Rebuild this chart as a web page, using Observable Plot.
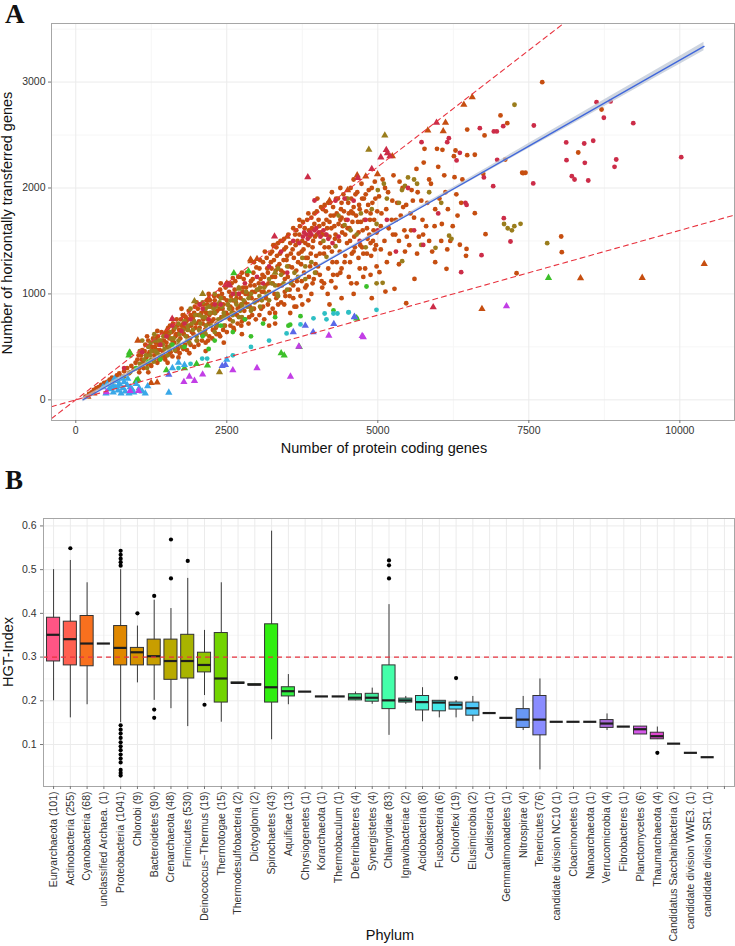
<!DOCTYPE html>
<html><head><meta charset="utf-8">
<script src="https://cdn.jsdelivr.net/npm/d3@7"></script>
<script src="https://cdn.jsdelivr.net/npm/@observablehq/plot@0.6"></script>
<style>
body{margin:0;background:#fff;}
#wrap{position:relative;width:735px;height:946px;overflow:hidden;font-family:"Liberation Sans",Arial,sans-serif;}
#wrap > div{position:absolute;left:0;}
#panelA{top:0;} #panelB{top:460px;}
</style></head>
<body><div id="wrap"><div id="panelA"></div><div id="panelB"></div></div>
<script>
// ---------------- Panel A data ----------------
const xTicksA = [0, 2500, 5000, 7500, 10000];
const yTicksA = [0, 1000, 2000, 3000];
const guideSlopes = [0.44, 0.16];
const fitSlope = 0.3245, fitIntercept = -38;
const ciX = [120, 2500, 5000, 7500, 10400];
const ciHalf = [22, 10, 12, 24, 40];

const orangeDots = [[160,30],[220,55],[260,70],[300,95],[340,110],[380,120],[420,140],[470,160],[520,170],[560,190],[600,210],[640,180],[680,230],[720,250],[760,220],[800,270],[850,300],[880,250],[920,320],[960,290],[990,350],
[1020,380],[1050,300],[1080,420],[1100,470],[1120,350],[1150,520],[1170,400],[1200,560],[1220,450],[1240,330],[1260,500],[1280,580],[1300,420],[1320,540],[1340,470],[1360,600],[1380,380],[1400,520],[1420,640],[1440,460],[1460,560],[1480,410],[1490,620],
[1510,500],[1530,680],[1550,580],[1570,450],[1590,640],[1610,720],[1630,540],[1650,600],[1670,760],[1690,480],[1710,660],[1730,580],[1750,700],[1770,800],[1790,620],[1810,520],[1830,740],[1850,660],[1870,840],[1890,580],[1910,700],[1930,780],[1950,620],[1970,880],[1990,720],
[2010,560],[2030,800],[2050,680],[2070,900],[2090,620],[2110,760],[2130,840],[2150,700],[2170,940],[2190,560],[2210,800],[2230,880],[2250,740],[2270,660],[2290,980],[2310,820],[2330,720],[2350,900],[2370,620],[2390,1040],[2410,780],[2430,860],[2450,960],[2470,700],[2490,820],
[2510,900],[2530,1100],[2550,760],[2570,980],[2590,860],[2610,680],[2630,1040],[2650,920],[2670,800],[2690,1160],[2710,880],[2730,960],[2750,740],[2770,1060],[2790,840],[2810,1000],[2830,1200],[2850,900],[2870,780],[2890,1080],[2910,960],[2930,1140],[2950,860],[2970,1020],[2990,1250],
[3010,940],[3030,1100],[3050,1320],[3070,860],[3090,1180],[3110,1020],[3130,1400],[3150,960],[3170,1240],[3190,1100],[3210,820],[3230,1300],[3250,1160],[3270,1460],[3290,1000],[3310,1220],[3330,1360],[3350,900],[3370,1280],[3390,1500],[3410,1080],[3430,1200],[3450,1420],[3470,980],[3490,1320],
[3510,1160],[3520,1560],[3540,1040],[3560,1380],[3580,1250],[3600,1620],[3620,880],[3640,1460],[3660,1120],[3680,1300],[3700,1560],[3720,980],[3740,1400],[3760,1680],[3780,1200],[3800,1480],[3820,1080],[3840,1340],[3860,1600],[3880,1260],[3900,1720],[3920,1440],[3940,1140],[3960,1540],[3980,1360],[3990,1780],
[4010,1260],[4030,1640],[4050,1480],[4070,1120],[4090,1800],[4110,1380],[4130,1560],[4150,1700],[4170,1000],[4190,1440],[4210,1860],[4230,1620],[4250,1300],[4270,1740],[4290,1520],[4310,1900],[4330,1180],[4350,1660],[4370,1400],[4390,1800],[4410,1580],[4430,1940],[4450,1300],[4470,1700],[4490,1480],
[4510,1860],[4530,1620],[4550,2000],[4570,1380],[4590,1760],[4610,1540],[4630,1940],[4650,1100],[4670,1680],[4690,1840],[4710,1460],[4730,2040],[4750,1600],[4770,1900],[4790,1240],[4810,1780],[4830,1520],[4850,1980],[4870,1700],[4890,1360],[4910,1860],[4930,1600],[4950,2060],[4970,1460],[4990,1780],
[5020,1920],[5050,1640],[5080,2080],[5110,1500],[5140,1800],[5170,1960],[5200,1380],[5230,1700],[5260,2120],[5290,1560],[5320,1860],[5350,1280],[5380,1740],[5410,2000],[5440,1600],[5470,1840],
[5520,1460],[5560,1980],[5600,1720],[5640,2180],[5680,1540],[5720,1880],[5760,2240],[5800,1640],[5850,2080],[5900,1400],[5950,1800],[6000,2200],[6060,1660],[6120,1960],[6200,1500],[6260,2300],[6320,1740],[6400,2080],[6460,1360],
[7722,2999],[8704,2741],[8318,2335],[7390,2144],[7445,2144],[8036,1542],[8046,1394],[7031,2685],[7143,2612],[6767,2496],[6480,2552],[5980,2370],[6070,2360],[6286,2354],[6480,2310],[6606,2314],[5773,2370],[7110,2268],[6745,2134],[7407,2140],[6606,1762],[6783,1564],[7297,1195],[6137,1237],[6358,1464],[6469,1425],[5607,1142],[5470,912],[5276,1048],[5126,1022],[5027,1205],[6270,2102],
[3700,1700],[3850,1760],[4000,1900],[4120,1840],[4240,1960],[4380,2000],[4600,2080],[4400,1720],[4560,1780],[4200,1680],[4060,1580],[3950,1660],[3650,1600],[3450,1520],[3250,1400],[3350,1480],[2950,1300],[2750,1200],[2600,1150],[2400,1100],[2200,1000],[2000,920],[1750,860],[1600,760],[1350,650],[1180,600],
[1040,420],[1090,380],[1140,460],[1190,430],[1230,510],[1270,460],[1310,500],[1330,580],[1370,520],[1390,470],[1430,560],[1470,620],[1500,540],[1540,620],[1560,700],[1600,560],[1620,660],[1660,620],[1680,700],[1700,620],[1740,760],[1760,660],[1780,720],[1800,680],[1820,780],[1840,600],[1860,760],[1880,700],[1900,800],[1920,640],[1940,760],[1960,820],[1980,680],
[2020,860],[2040,740],[2060,640],[2080,820],[2100,720],[2120,900],[2140,660],[2160,820],[2180,900],[2200,720],[2220,940],[2240,820],[2260,900],[2280,760],[2300,940],[2320,680],[2340,840],[2360,980],[2380,860],[2400,760],[2420,1000],[2440,900],[2460,820],[2480,1060],[2500,940],[2520,800],[2540,1020],[2560,880],[2580,1100],[2600,940],[2620,820],[2640,1120],[2660,960],[2680,860],[2700,1000],[2720,1160],[2740,900],[2760,1020],[2780,1140],[2800,920],[2820,1060],[2840,1180],[2860,1000],[2880,880],[2900,1120],[2920,1020],[2940,1200],[2960,1080],[2980,940],
[3020,1040],[3040,1240],[3060,1140],[3080,1020],[3100,1300],[3120,1160],[3140,1080],[3160,1340],[3180,1200],[3200,1020],[3220,1380],[3240,1240],[3260,1100],[3280,1320],[3300,1160],[3320,1440],[3340,1260],[3360,1080],[3380,1380],[3400,1220],[3420,1500],[3440,1320],[3460,1140],[3480,1440],[3500,1360],[3530,1260],[3550,1480],[3570,1120],[3590,1420],[3610,1340],[3630,1560],[3650,1220],[3670,1500],[3690,1380],[3710,1640],[3730,1280],[3750,1500],[3770,1420],[3790,1620],[3810,1340],[3830,1700],[3850,1460],[3870,1540],[3890,1380],[3910,1620],[3930,1500],[3950,1760],[3970,1280],[3990,1560],
[4020,1700],[4040,1380],[4060,1820],[4080,1560],[4100,1660],[4120,1440],[4140,1780],[4160,1620],[4180,1860],[4200,1540],[4220,1740],[4240,1400],[4260,1820],[4280,1640],[4300,1560],[4320,1760],[4340,1900],[4360,1500],[4380,1700],[4400,1860],[4420,1640],[4440,1780],[4460,1560],[4480,1900],[4500,1620],[4520,1760],[4540,1500],[4560,1900],[4580,1680],[4600,1820],[4620,1440],[4640,1740],[4660,1960],[4680,1580],[4700,1800],[4720,1680],[4740,1900],[4760,1380],[4780,1700],[4800,1940],[4820,1620],[4840,1840],[4860,1560],[4880,1760],[4900,2000],[4920,1500],[4940,1700],[4960,1900],[4980,1580],
[4080,1060],[4230,1120],[4380,1200],[4520,1160],[4700,1240],[4880,1180],[4400,960],[4200,900],[4600,1000],[4900,960],[3100,880],[3300,820],[3450,900],[3600,960],[3750,900],[3900,1000],[3200,700],[3550,820],
[5060,1760],[5120,2000],[5180,1620],[5240,1880],[5300,1700],[5360,2060],[5420,1820],[5480,1540],[5540,1760],[5580,1880],[5660,1960],[5740,1700],[5820,1860],[5880,2040],[5940,1640],[6020,1900],[6100,2120],[6160,1800],[6240,1640],[6300,1940],[6380,1860],
[1050,260],[1120,300],[1180,340],[1250,320],[1300,380],[1350,350],[1420,400],[1480,380],[1540,430],[1600,410],[1660,460],[1720,440],[1780,480],[1840,470],[1900,520],[1960,500],[1520,350],[1700,400],[1880,440],[1200,260],
[2030,520],[2090,560],[2150,540],[2210,600],[2260,580],[2330,620],[2390,600],[2440,660],[2500,640],[2560,700],[2620,660],[2680,720],[2740,700],[2800,760],[2860,720],[2920,800],[2980,760],[2150,460],[2450,540],[2750,620],
[3040,800],[3120,760],[3180,900],[3260,860],[3320,960],[3400,920],[3460,1020],[3540,980],[3600,1080],[3680,1040],[3740,1120],[3800,1060],[3860,1160],[3920,1100],[3980,1200],[3300,720],[3650,880],[3850,940],
[4040,1180],[4110,1100],[4180,1240],[4260,1180],[4320,1300],[4400,1240],[4460,1360],[4540,1300],[4600,1400],[4680,1340],[4740,1440],[4820,1380],[4880,1480],[4950,1420],[4300,1060],[4560,1100],[4760,1160],[4980,1260],
[5050,1420],[5150,1300],[5250,1560],[5350,1500],[5450,1400],[5550,1600],[5650,1380],[5750,1560],[5850,1500],[5950,1300],[6050,1500],[6150,1420]];
const orangeTris = [[6563,2858],[6424,2786],[6121,2616],[6083,2537],[5828,2543],[2893,1325],[2900,1310],[6724,859],[8356,1148],[9377,1152],[10404,1284],[1027,560],[1248,160],[1347,165],[200,30],[300,60],[4659,2120],[4800,2110],[4995,2130],[4200,1880],[3000,1330],[3300,1450],[3500,1540],[1800,790],[2200,960],[2500,1100],[1500,650],[4500,1980],[5240,2300]];
const oliveDots = [[600,150],[700,180],[800,220],[900,260],[1000,300],[1060,340],[1130,380],[1180,300],[1230,420],[1290,360],[1350,440],[1410,400],[1470,480],[1520,420],[1580,520],[1640,470],[1700,560],[1760,500],[1820,600],[1880,540],[1940,660],[2000,600],[2060,720],[2120,640],[2180,760],[2240,700],[2300,820],[2360,760],[2420,880],[2480,780],[2540,860],[2600,800],[2660,900],[2720,840],[2780,940],[2840,880],[2900,1000],[2960,920],[3040,980],[3120,1060],[3200,1140],[3300,1080],[3400,1180],[3500,1260],[3620,1200],[3750,1340],[3900,1300],[4100,1500],[4350,1740],[4500,1900],[4650,1560],[4800,1440],[4980,1660],[5080,1105],[4980,1100],[5150,1900],[5403,1309],[5600,2080],[5718,1463],[5955,1435],[6180,1550],[6220,1520],[7090,1660],[7150,1620],[7260,1640],[7220,1600],[7263,2786],[7363,1662],[7804,1479],[5400,1980],[5500,2100],[1400,560],[1560,640],[1700,720],[1900,860],[2100,920],[2300,1000],[2500,1080],[2700,1060],[1200,500],[1300,620],[1100,560],[2050,800],[2200,880],[2650,1000],[2400,960],
[1450,600],[1620,580],[1780,660],[1960,740],[2140,780],[2320,880],[2560,940],[2820,1020],[1250,460],[1550,500],[1850,700],[2150,860],[2450,820],[2750,900],[3050,1060],[3350,1240],
[1060,460],[1160,420],[1240,540],[1320,460],[1380,560],[1440,520],[1500,600],[1580,580],[1640,680],[1720,620],[1800,740],[1860,660],[1920,720],[1980,800],[2040,660],[2100,780],[2160,700],[2220,820],[2280,860],[2340,700],[2380,920],[2440,780],[2520,900],[2580,820],[2640,940],[2700,780],[2760,880],[2860,960],[2920,860],[3000,1040],[3080,940],[3160,1000],[3240,1100],[3340,1000],[3440,1100],[3560,1100],[3680,1160],[3800,1260],[3960,1200],[4150,1350],[4300,1450],[4450,1650],[4550,1600],[4720,1760],[4900,1800],[5000,1980],[5100,2040],[5350,1860],[5450,2020],[5650,2040],[5850,1960],[6050,1860],
[1100,330],[1400,420],[1700,520],[2000,560],[2300,640],[2600,740],[2900,840],[3200,940],[3500,1040],[3800,1140],[1250,380],[1550,470],[1850,560],[2150,620],[2450,700],[2750,780],[3050,880],[3350,980]];
const redDots = [[800,300],[1100,450],[1300,560],[1500,600],[1600,700],[1750,650],[1900,760],[2050,900],[2200,760],[2400,900],[2600,1000],[2800,1100],[3000,1160],[3200,1260],[3400,1400],[3600,1500],[3760,1540],[3820,1560],[3880,1580],[3950,1600],[4050,1540],[4150,1560],[4250,1480],[3952,1882],[4300,1880],[4500,1700],[4700,1500],[5000,1600],[5300,1400],[5500,2000],[5752,1463],[6176,2470],[6149,2433],[5724,2433],[6358,2332],[6304,2260],[6689,2565],[6921,2534],[6970,2534],[7076,2584],[6976,2266],[6910,2017],[6756,2100],[6450,1860],[6470,1840],[7086,1715],[7197,1495],[6717,1366],[6380,1205],[7583,2590],[7573,2043],[8621,2810],[8853,2817],[8742,2663],[9229,2612],[8119,2430],[8417,2420],[8566,2446],[8124,2263],[8427,2238],[8947,2269],[8919,2200],[10023,2291],[8212,2112],[8257,2080],[8484,2071],
[3780,1580],[3840,1520],[3900,1560],[3980,1620],[4020,1580],[4100,1600],[4180,1520],[3700,1480],[4350,1540],[4600,1880],[4800,1700],[2300,900],[2100,860],[1800,720],[1400,520],[2700,1000],[3100,1100],[3500,1200],[4450,1900],[5150,1700],[5600,1600],[6000,1760]];
const redTris = [[3841,2102],[5972,2616],[5140,2360],[5160,2330],[4669,2096],[5917,874],[3290,1542],[2480,1085],[2520,1090],[2550,1080],[1596,765],[5050,2290],[5200,2300],[4900,2180]];
const oliveTris = [[5116,2496],[4851,2361],[1965,931],[2379,261],[900,440],[1300,560],[2100,1000],[3300,1200],[2700,1050]];
const greenDots = [[4813,1070],[3550,710],[3520,700],[3720,790],[4266,845],[4650,770],[2400,700],[2100,600],[1800,500],[1600,520],[2300,560],[2600,640],[2800,760],[3100,720],[1400,380],[1200,360],[1000,300],[2900,600],[3300,780],[2200,480]];
const greenTris = [[2617,1196],[2860,1215],[890,447],[880,420],[2180,325],[1000,180],[1030,190],[7826,1152],[4650,770],[1800,300],[2000,340],[3400,440],[3450,420],[3700,500],[1500,280]];
const cyanDots = [[4120,815],[4266,815],[4332,815],[4514,825],[4150,760],[3935,770],[3720,712],[3490,627],[4978,850],[4518,828],[2093,390],[2175,390],[2600,420],[2900,500],[3200,560],[1700,300],[1900,340]];
const lightBlueTris = [[500,60],[550,100],[600,140],[620,70],[650,120],[680,180],[700,90],[720,150],[750,60],[780,110],[800,170],[820,80],[850,140],[880,60],[900,120],[930,100],[960,70],[1000,150],[1050,110],[1100,80],[1150,60],[1190,130],[1540,69],[450,120],[520,150],[580,110],[640,200],[760,200],[860,200],[700,130],[1600,300],[1700,350],[1800,330],[2500,380]];
const blueTris = [[2424,320],[2478,330],[3930,638],[4272,717],[1540,239],[4614,780],[4613,784],[3600,640],[3800,700]];
const magentaTris = [[508,72],[900,85],[1040,85],[1790,170],[1880,220],[1965,180],[3692,503],[4189,607],[4741,604],[4760,592],[7130,884],[2100,240],[2600,280],[3000,300],[3554,220]];

// ---------------- Panel B data ----------------
const phyla = ["Euryarchaeota (101)","Actinobacteria (255)","Cyanobacteria (68)","unclassified Archaea. (1)","Proteobacteria (1041)","Chlorobi (9)","Bacteroidetes (90)","Crenarchaeota (48)","Firmicutes (530)","Deinococcus\u2212Thermus (19)","Thermotogae (15)","Thermodesulfobacteria (2)","Dictyoglomi (2)","Spirochaetes (43)","Aquificae (13)","Chrysiogenetes (1)","Korarchaeota (1)","Thermobaculum (1)","Deferribacteres (4)","Synergistetes (4)","Chlamydiae (83)","Ignavibacteriae (2)","Acidobacteria (8)","Fusobacteria (6)","Chloroflexi (19)","Elusimicrobia (2)","Caldiserica (1)","Gemmatimonadetes (1)","Nitrospirae (4)","Tenericutes (76)","candidate division NC10 (1)","Cloacimonetes (1)","Nanoarchaeota (1)","Verrucomicrobia (4)","Fibrobacteres (1)","Planctomycetes (6)","Thaumarchaeota (4)","Candidatus Saccharibacteria (2)","candidate division WWE3. (1)","candidate division SR1. (1)",""];
const whiskerLow = [0.20,0.161,0.191,0.331,0.15,0.241,0.201,0.182,0.141,0.212,0.151,0.240,0.235,0.111,0.191,0.221,0.21,0.21,0.20,0.192,0.121,0.192,0.152,0.161,0.161,0.152,0.172,0.161,0.132,0.042,0.152,0.152,0.152,0.132,0.141,0.123,0.112,0.102,0.081,0.071];
const q1 = [0.29,0.281,0.279,0.331,0.281,0.281,0.281,0.248,0.251,0.265,0.196,0.239,0.235,0.196,0.21,0.221,0.21,0.21,0.201,0.198,0.181,0.196,0.178,0.176,0.18,0.166,0.172,0.161,0.138,0.121,0.152,0.152,0.152,0.138,0.141,0.123,0.112,0.102,0.081,0.071];
const median = [0.351,0.341,0.331,0.331,0.321,0.311,0.302,0.291,0.291,0.282,0.251,0.241,0.237,0.231,0.222,0.221,0.21,0.21,0.207,0.207,0.201,0.201,0.197,0.196,0.191,0.183,0.172,0.161,0.157,0.157,0.152,0.152,0.152,0.148,0.141,0.135,0.119,0.102,0.081,0.071];
const q3 = [0.39,0.381,0.394,0.331,0.371,0.321,0.34,0.34,0.351,0.31,0.355,0.242,0.238,0.375,0.231,0.221,0.21,0.21,0.215,0.216,0.281,0.205,0.211,0.20,0.196,0.196,0.172,0.161,0.181,0.211,0.152,0.152,0.152,0.156,0.141,0.141,0.127,0.102,0.081,0.071];
const whiskerHigh = [0.50,0.521,0.47,0.331,0.50,0.371,0.43,0.411,0.48,0.361,0.47,0.242,0.238,0.588,0.26,0.221,0.21,0.21,0.22,0.229,0.42,0.21,0.23,0.20,0.20,0.21,0.172,0.161,0.21,0.25,0.152,0.152,0.152,0.17,0.141,0.141,0.14,0.102,0.081,0.071];
const outliers = [[1,0.549],[4,0.543],[4,0.534],[4,0.525],[4,0.517],[4,0.509],[4,0.144],[4,0.134],[4,0.125],[4,0.115],[4,0.105],[4,0.096],[4,0.087],[4,0.077],[4,0.068],[4,0.059],[4,0.042],[4,0.035],[4,0.029],[5,0.40],[6,0.44],[6,0.18],[6,0.161],[7,0.569],[7,0.48],[8,0.52],[9,0.191],[20,0.521],[20,0.51],[20,0.48],[24,0.252],[36,0.081]];
const yTicksB = [0.1, 0.2, 0.3, 0.4, 0.5, 0.6];
const thresholdB = 0.3;

// ---------------- styles ----------------
const boxColors = ["#ff5585","#ff6050","#f8701e","#ee7d00","#e08800","#d49200","#c89e00","#b8aa00","#a8b400","#90c400","#72d400","#5cdc00","#48e400","#30ee10","#30f040","#38f060","#3cf070","#3ff080","#40e888","#40e89a","#44ffaa","#44f8bc","#44f0d0","#44e8e8","#48dcf8","#50c8f8","#58b8f8","#60a8f8","#6898f4","#8a8cff","#9a84fa","#a47cf4","#ae72ee","#a868d8","#c060e4","#d458e8","#e048d0","#ec4cc0","#f450a8","#fa5498"];
const groups = [
  {pts: orangeDots, color: "#c64e10", sym: "circle"},
  {pts: oliveDots, color: "#9a7d1c", sym: "circle"},
  {pts: redDots, color: "#cc2c48", sym: "circle"},
  {pts: greenDots, color: "#3cc02a", sym: "circle"},
  {pts: cyanDots, color: "#2ebfc4", sym: "circle"},
  {pts: orangeTris, color: "#c64e10", sym: "triangle"},
  {pts: oliveTris, color: "#9a7d1c", sym: "triangle"},
  {pts: redTris, color: "#cc2c48", sym: "triangle"},
  {pts: greenTris, color: "#3cc02a", sym: "triangle"},
  {pts: lightBlueTris, color: "#3aa8e8", sym: "triangle"},
  {pts: blueTris, color: "#5a68e8", sym: "triangle"},
  {pts: magentaTris, color: "#c23ee6", sym: "triangle"}
];
const font = "Liberation Sans, Arial, sans-serif";
const tickColor = "#333";

// ---------------- Panel A ----------------
const xDomA = [-402, 10905], yDomA = [-195, 3553];
const scatter = groups.flatMap(g => g.pts.map(([x, y]) => ({x, y, color: g.color, sym: g.sym})));
const fitRows = ciX.map((x, i) => {
  const y = fitIntercept + fitSlope * x;
  return {x, y, lo: y - ciHalf[i], hi: y + ciHalf[i]};
});
const guideRows = guideSlopes.flatMap((s, k) => xDomA.map(x => ({x, y: s * x, k})));
const minorX = xTicksA.slice(0, -1).map(v => v + 1250);
const minorY = [500, 1500, 2500, 3500];

const chartA = Plot.plot({
  width: 735, height: 460,
  marginTop: 23, marginLeft: 51, marginRight: 1, marginBottom: 40,
  style: {fontFamily: font, background: "white"},
  x: {domain: xDomA},
  y: {domain: yDomA},
  color: {type: "identity"},
  marks: [
    Plot.ruleX(minorX, {stroke: "#f6f6f6"}),
    Plot.ruleY(minorY, {stroke: "#f6f6f6"}),
    Plot.gridX(xTicksA, {stroke: "#ebebeb", strokeOpacity: 1}),
    Plot.gridY(yTicksA, {stroke: "#ebebeb", strokeOpacity: 1}),
    Plot.dot(scatter.filter(d => d.sym === "circle"), {x: "x", y: "y", fill: "color", r: 2.4, symbol: "circle"}),
    Plot.dot(scatter.filter(d => d.sym === "triangle"), {x: "x", y: "y", fill: "color", r: 2.7, symbol: "triangle"}),
    Plot.areaY(fitRows, {x: "x", y1: "lo", y2: "hi", fill: "#b9c3d3", fillOpacity: 0.7, curve: "natural"}),
    Plot.line(fitRows, {x: "x", y: "y", stroke: "#3f66db", strokeWidth: 1.3}),
    Plot.line(guideRows, {x: "x", y: "y", z: "k", stroke: "#e8333f", strokeWidth: 1.1, strokeDasharray: "5,4", clip: true}),
    Plot.frame({stroke: "#a6a6a6"}),
    Plot.axisX(xTicksA, {tickSize: 3, tickPadding: 3, fontSize: 10.5, color: tickColor, stroke: "#777", label: null, tickFormat: d3.format("d")}),
    Plot.axisY(yTicksA, {tickSize: 3, tickPadding: 3, fontSize: 10.5, color: tickColor, stroke: "#777", label: null, tickFormat: d3.format("d")})
  ]
});
document.getElementById("panelA").appendChild(chartA);

// ---------------- Panel B ----------------
const boxes = phyla.slice(0, whiskerLow.length).map((p, i) => ({
  p, lo: whiskerLow[i], q1: q1[i], med: median[i], q3: q3[i], hi: whiskerHigh[i], c: boxColors[i]
}));
const outRows = outliers.map(([i, v]) => ({p: phyla[i], v}));
const minorYB = [0.05, 0.15, 0.25, 0.35, 0.45, 0.55];

const chartB = Plot.plot({
  width: 735, height: 486,
  marginTop: 58, marginLeft: 43, marginRight: 1, marginBottom: 160,
  style: {fontFamily: font, background: "white"},
  x: {type: "band", domain: phyla, paddingInner: 0.22, paddingOuter: 0.21},
  y: {domain: [0.004, 0.617]},
  color: {type: "identity"},
  marks: [
    Plot.ruleY(minorYB, {stroke: "#f6f6f6"}),
    Plot.gridY(yTicksB, {stroke: "#ebebeb", strokeOpacity: 1}),
    Plot.gridX({stroke: "#ebebeb", strokeOpacity: 1}),
    Plot.ruleX(boxes, {x: "p", y1: "lo", y2: "hi", stroke: "#3a3a3a", strokeWidth: 1}),
    Plot.barY(boxes, {x: "p", y1: "q1", y2: "q3", fill: "c", stroke: "#333", strokeWidth: 1}),
    Plot.tickY(boxes, {x: "p", y: "med", stroke: "#1e1e1e", strokeWidth: 2.2}),
    Plot.dot(outRows, {x: "p", y: "v", r: 2.1, fill: "black"}),
    Plot.ruleY([thresholdB], {stroke: "#e8333f", strokeWidth: 1.1, strokeDasharray: "5,4"}),
    Plot.frame({stroke: "#a6a6a6"}),
    Plot.axisX({tickSize: 3, tickPadding: 2, tickRotate: -90, fontSize: 10.5, color: tickColor, stroke: "#777", label: null}),
    Plot.axisY(yTicksB, {tickSize: 3, tickPadding: 4, fontSize: 10.5, color: tickColor, stroke: "#777", label: null, tickFormat: d3.format(".1f")})
  ]
});
document.getElementById("panelB").appendChild(chartB);

// ---------------- titles & panel letters ----------------
const ns = "http://www.w3.org/2000/svg";
const ov = document.createElementNS(ns, "svg");
ov.setAttribute("width", 735); ov.setAttribute("height", 946);
ov.style.position = "absolute"; ov.style.left = "0"; ov.style.top = "0"; ov.style.pointerEvents = "none";
function addText(str, attrs) {
  const t = document.createElementNS(ns, "text");
  for (const k in attrs) t.setAttribute(k, attrs[k]);
  t.textContent = str;
  ov.appendChild(t);
}
const serif = "Liberation Serif, Times New Roman, serif";
addText("A", {x: 5, y: 23, "font-family": serif, "font-weight": "bold", "font-size": 27, fill: "#111"});
addText("B", {x: 5, y: 489, "font-family": serif, "font-weight": "bold", "font-size": 27, fill: "#111"});
addText("Number of protein coding genes", {x: 384, y: 453, "text-anchor": "middle", "font-family": font, "font-size": 14.5, fill: "#111"});
addText("Number of horizontally transferred genes", {transform: "translate(12,223) rotate(-90)", "text-anchor": "middle", "font-family": font, "font-size": 14.5, fill: "#111"});
addText("Phylum", {x: 390, y: 940, "text-anchor": "middle", "font-family": font, "font-size": 14.5, fill: "#111"});
addText("HGT-Index", {transform: "translate(13,652) rotate(-90)", "text-anchor": "middle", "font-family": font, "font-size": 14.5, fill: "#111"});
document.getElementById("wrap").appendChild(ov);
</script>
</body></html>
